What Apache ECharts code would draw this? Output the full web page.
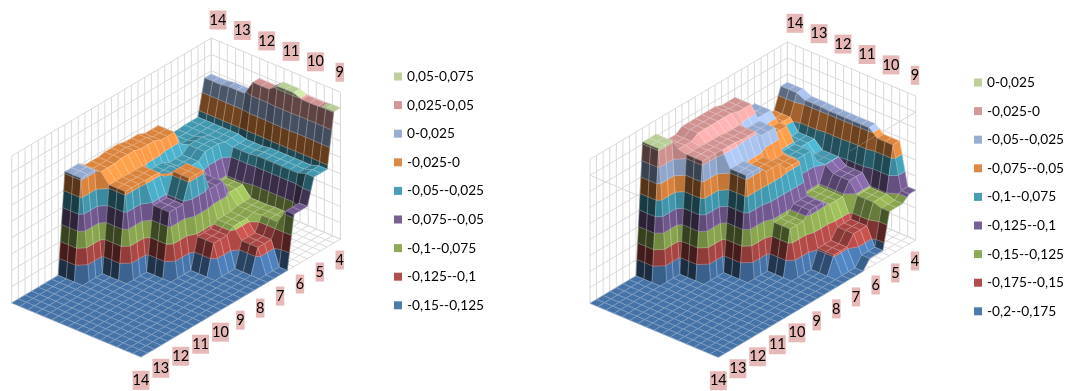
<!DOCTYPE html>
<html><head><meta charset="utf-8">
<style>html,body{margin:0;padding:0;background:#fff}#c{width:1068px;height:391px}</style>
<script src="https://cdn.jsdelivr.net/npm/echarts@6/dist/echarts.min.js"></script>
</head><body><div id="c"></div>
<script>
// Surface heights: one list per depth step (front row first), 11 values across.
const leftRow0 = [-.15,-.15,-.15,-.15,-.15,-.15,-.15,-.15,-.070,-.031,.051];
const leftRow1 = [-.15,-.15,-.15,-.15,-.15,-.15,-.15,-.113,-.092,-.035,.049];
const leftRow2 = [-.15,-.15,-.15,-.15,-.15,-.15,-.104,-.096,-.093,-.035,.054];
const leftRow3 = [-.15,-.15,-.15,-.15,-.15,-.054,-.020,-.055,-.078,-.037,.044];
const leftRow4 = [-.15,-.15,-.15,-.15,-.020,-.021,-.034,-.040,-.031,-.034,.022];
const leftRow5 = [-.15,-.15,-.15,.003,-.005,-.003,-.006,-.011,-.035,-.034,.020];
const rightRow0 = [-.2,-.2,-.2,-.2,-.2,-.2,-.2,-.2,-.186,-.131,-.122];
const rightRow1 = [-.2,-.2,-.2,-.2,-.2,-.2,-.2,-.173,-.158,-.127,-.056];
const rightRow2 = [-.2,-.2,-.2,-.2,-.2,-.2,-.130,-.119,-.128,-.109,-.045];
const rightRow3 = [-.2,-.2,-.2,-.2,-.2,-.044,-.056,-.070,-.078,-.100,-.045];
const rightRow4 = [-.2,-.2,-.2,-.2,-.019,-.020,-.022,-.034,-.055,-.088,-.044];
const rightRow5 = [-.2,-.2,-.2,.003,-.016,-.009,-.009,-.013,-.041,-.070,-.038];
const frontLabels = [14,13,12,11,10,9,8,7,6,5,4];
const backLabels = [14,13,12,11,10,9];
const leftLegend = ['0,05-0,075','0,025-0,05','0-0,025','-0,025-0','-0,05--0,025','-0,075--0,05','-0,1--0,075','-0,125--0,1','-0,15--0,125'];
const rightLegend = ['0-0,025','-0,025-0','-0,05--0,025','-0,075--0,05','-0,1--0,075','-0,125--0,1','-0,15--0,125','-0,175--0,15','-0,2--0,175'];
const bandColors = ['#4572A7','#AA4643','#89A54E','#71588F','#4198AF','#DB843D','#93A9CF','#D19392','#B9CD96'];

const FONT = 'Lato, "Open Sans", sans-serif';
const U = 16, V = 30, STEP = 0.025, BANDS = 9;
const chartL = {rows:[leftRow0,leftRow1,leftRow2,leftRow3,leftRow4,leftRow5],zMin:-.15,shift:false,zeroPlane:false,
  ox:141,oy:357,ux:-8.08,uy:-3.38,vx:6.65,vy:-3.93,k:653,
  front:[141,380.3,19.87,-12.03],back:[218,20,24.35,10.45]};
const chartR = {rows:[rightRow0,rightRow1,rightRow2,rightRow3,rightRow4,rightRow5],zMin:-.2,shift:true,zeroPlane:true,
  ox:718.3,oy:357.3,ux:-8.02,uy:-3.375,vx:6.58,vy:-3.91,k:640,
  front:[718.3,380.7,19.67,-11.97],back:[795,23.3,24,10.4]};

const block = i => Math.floor((i+1)/3);
function zAt(c,u,v){
  let I=block(u); const J=block(v);
  if(c.shift && J===8 && (u===11||u===8)) I-=1;   // this row's step sits one cell further back in the picture
  return c.rows[I][J];
}
const proj = (c,u,v,z) => [c.ox+c.ux*u+c.vx*v, c.oy+c.uy*u+c.vy*v-(z-c.zMin)*c.k];

function clip(poly, lim, keepAbove){
  const out=[];
  for(let i=0;i<poly.length;i++){
    const a=poly[i], b=poly[(i+1)%poly.length];
    const ia=keepAbove?a[2]>=lim:a[2]<=lim, ib=keepAbove?b[2]>=lim:b[2]<=lim;
    if(ia) out.push(a);
    if(ia!==ib){const t=(lim-a[2])/(b[2]-a[2]); out.push([a[0]+t*(b[0]-a[0]),a[1]+t*(b[1]-a[1]),lim]);}
  }
  return out;
}
function crossing(poly,lim){
  const pts=[];
  for(let i=0;i<poly.length;i++){
    const a=poly[i], b=poly[(i+1)%poly.length];
    if((a[2]<lim)!==(b[2]<lim)){const t=(lim-a[2])/(b[2]-a[2]); pts.push([a[0]+t*(b[0]-a[0]),a[1]+t*(b[1]-a[1]),lim]);}
  }
  return pts;
}
function shade(hex,f){
  const n=parseInt(hex.slice(1),16);
  const c=[n>>16,(n>>8)&255,n&255].map(x=>Math.min(255,Math.round(x*f)));
  return 'rgb('+c.join(',')+')';
}
const CELL=10, L=[-.67,0,.74], GRIDLINE='rgba(255,255,255,.32)';
function surfaceItem(c){
  return function(params,api){
    const u=api.value(0), v=api.value(1);
    const q=[[u,v],[u+1,v],[u+1,v+1],[u,v+1]].map(p=>[p[0],p[1],zAt(c,p[0],p[1])]);
    const du=((q[1][2]+q[2][2])-(q[0][2]+q[3][2]))/2*c.k;
    const dv=((q[2][2]+q[3][2])-(q[0][2]+q[1][2]))/2*c.k;
    const len=Math.hypot(du,dv,CELL);
    const dot=(-du*L[0]-dv*L[1]+CELL*L[2])/len;
    const f=.34+.89*Math.max(0,dot);
    const children=[];
    for(let b=0;b<BANDS;b++){
      const lo=c.zMin+b*STEP, hi=lo+STEP;
      let p=b===0?q:clip(q,lo,true);
      if(p.length) p=b===BANDS-1?p:clip(p,hi,false);
      if(p.length<3) continue;
      const col=shade(bandColors[b],f);
      children.push({type:'polygon',shape:{points:p.map(a=>api.coord(proj(c,a[0],a[1],a[2])))},
        style:{fill:col,stroke:col,lineWidth:.5}});
    }
    for(let b=1;b<BANDS;b++){
      const pts=crossing(q,c.zMin+b*STEP);
      if(pts.length===2){
        const a=api.coord(proj(c,pts[0][0],pts[0][1],pts[0][2])), e=api.coord(proj(c,pts[1][0],pts[1][1],pts[1][2]));
        children.push({type:'line',shape:{x1:a[0],y1:a[1],x2:e[0],y2:e[1]},style:{stroke:GRIDLINE,lineWidth:.7,fill:'none'}});
      }
    }
    children.push({type:'polygon',shape:{points:q.map(a=>api.coord(proj(c,a[0],a[1],a[2])))},
      style:{fill:'none',stroke:GRIDLINE,lineWidth:.7}});
    return {type:'group',children};
  };
}
function quads(){const d=[];for(let v=V-1;v>=0;v--)for(let u=U-1;u>=0;u--)d.push([u,v]);return d;}
function wallLines(c){
  const d=[], top=c.zMin+BANDS*STEP;
  for(let v=0;v<=V;v++){d.push([U,v,c.zMin,U,v,top]);d.push([0,v,c.zMin,U,v,c.zMin]);}
  for(let u=0;u<=U;u++){d.push([u,V,c.zMin,u,V,top]);d.push([u,0,c.zMin,u,V,c.zMin]);}
  for(let b=0;b<=BANDS;b++){const z=c.zMin+b*STEP;d.push([U,0,z,U,V,z]);d.push([U,V,z,0,V,z]);}
  if(c.zeroPlane){d.push([U,0,0,0,0,0]);d.push([0,V,0,0,0,0]);}
  return d;
}
function lineSeries(c,data,stroke){
  return {type:'custom',coordinateSystem:'cartesian2d',silent:true,clip:false,animation:false,
    data,encode:{x:0,y:1},
    renderItem(p,api){
      const a=api.coord(proj(c,api.value(0),api.value(1),api.value(2)));
      const b=api.coord(proj(c,api.value(3),api.value(4),api.value(5)));
      return {type:'line',shape:{x1:a[0],y1:a[1],x2:b[0],y2:b[1]},style:{stroke,lineWidth:1,fill:'none'}};
    }};
}
function surfaceSeries(c){
  return {type:'custom',coordinateSystem:'cartesian2d',silent:true,clip:false,animation:false,
    data:quads(),encode:{x:0,y:1},renderItem:surfaceItem(c)};
}
function labelSeries(labels,pos){
  return {type:'custom',coordinateSystem:'cartesian2d',silent:true,clip:false,animation:false,
    data:labels.map((t,k)=>[k,t]),encode:{x:0,y:1},
    renderItem(p,api){
      const k=api.value(0), at=api.coord([pos[0]+k*pos[2],pos[1]+k*pos[3]]);
      return {type:'text',x:at[0],y:at[1],style:{text:String(api.value(1)),font:'14.5px '+FONT,fill:'#000',
        align:'center',verticalAlign:'middle',backgroundColor:'#E6B9B8',padding:[2,0,2,0]}};
    }};
}
const legendSeries = [...new Set([...leftLegend,...rightLegend])].map(n=>({type:'custom',name:n,coordinateSystem:'cartesian2d',data:[],renderItem(){return null;}}));
function legendFor(names,left,top){
  return {orient:'vertical',left,top,itemWidth:8,itemHeight:8,itemGap:11.6,selectedMode:false,padding:0,icon:'rect',
    textStyle:{fontFamily:FONT,fontSize:13.7,color:'#000',lineHeight:17},
    data:names.map((n,i)=>({name:n,icon:'rect',itemStyle:{color:bandColors[BANDS-1-i],opacity:.95}}))};
}
const chart=echarts.init(document.getElementById('c'),null,{renderer:'canvas'});
chart.setOption({
  animation:false,
  legend:[legendFor(leftLegend,394,68),legendFor(rightLegend,974,74)],
  grid:{left:0,right:0,top:0,bottom:0},
  xAxis:{type:'value',min:0,max:1068,show:false},
  yAxis:{type:'value',min:0,max:391,inverse:true,show:false},
  series:[lineSeries(chartL,wallLines(chartL),'#D9D9D9'),lineSeries(chartR,wallLines(chartR),'#D9D9D9'),
    surfaceSeries(chartL),surfaceSeries(chartR),
    lineSeries(chartR,[[0,V,0,0,20,0]],'rgba(217,217,217,.28)'),
    labelSeries(frontLabels,chartL.front),labelSeries(backLabels,chartL.back),
    labelSeries(frontLabels,chartR.front),labelSeries(backLabels,chartR.back),...legendSeries]
});
</script></body></html>
